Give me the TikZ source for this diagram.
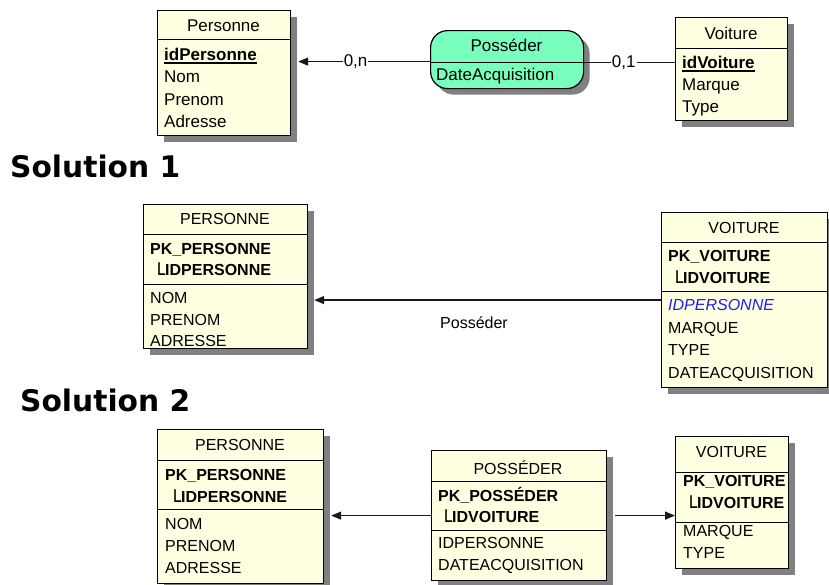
\documentclass[tikz,border=0pt]{standalone}
\usepackage{fontspec}
\setmainfont{Liberation Sans}
\newfontfamily\headfont{DejaVu Sans}
\newfontfamily\glyphfont{DejaVu Sans}
\usetikzlibrary{shadows,arrows.meta}

\definecolor{tblfill}{RGB}{255,255,225}
\definecolor{assocfill}{RGB}{120,255,190}
\definecolor{shade}{RGB}{128,128,128}
\definecolor{fkblue}{RGB}{30,30,255}

% tree corner drawn before an indexed column
\newcommand{\treemark}{\makebox[6pt][l]{\glyphfont\fontsize{20}{20}\selectfont\raisebox{-6.5pt}{\kern-6pt └}}}

\begin{document}
\begin{tikzpicture}[x=1pt,y=-1pt,
  tbl/.style={draw=black, line width=1.2pt, fill=tblfill, rectangle, inner sep=0pt,
    anchor=north west,
    drop shadow={shadow xshift=6pt, shadow yshift=-6pt, fill=shade, opacity=1}},
  assoc/.style={tbl, fill=assocfill, rounded corners=17pt},
  sep/.style={line width=1pt},
  big/.style={font=\fontsize{17}{20}\selectfont},
  small/.style={font=\fontsize{16}{19}\selectfont},
  ttl/.style={anchor=base, inner sep=0pt},
  row/.style={anchor=base west, inner sep=0pt},
  keyrow/.style={row, font=\fontsize{17}{20}\selectfont\bfseries},
  pkrow/.style={row, font=\fontsize{16}{19}\selectfont\bfseries},
  fkrow/.style={row, text=fkblue, font=\fontsize{16}{19}\selectfont\itshape},
  conn/.style={line width=1.3pt, draw=black!90},
  tip/.style={-{Triangle[length=10pt,width=8pt]}},
  card/.style={fill=white, inner sep=1pt, font=\fontsize{17}{20}\selectfont},
  section/.style={anchor=base west, inner sep=0pt, font=\headfont\bfseries\fontsize{29.7}{34}\selectfont}
]
\useasboundingbox (0,0) rectangle (829,584);

% ---------------- conceptual model ----------------
\node[tbl, minimum width=133pt, minimum height=125pt] (p0) at (157,10) {};
\draw[sep] (p0.west |- 0,39) -- (p0.east |- 0,39);
\node[ttl, big] (p0t) at (223.5,31.5) {Personne};
\node[keyrow] (p0k) at (164,60) {idPersonne};
\draw[line width=1.3pt] ([yshift=-3pt]p0k.base west) -- ([yshift=-3pt]p0k.base east);
\node[row, big] (p0a) at (164,82) {Nom};
\node[row, big] (p0b) at (164,105) {Prenom};
\node[row, big] (p0c) at (164,127) {Adresse};

\node[assoc, minimum width=153pt, minimum height=58pt] (a0) at (430,30) {};
\draw[sep] (a0.west |- 0,62) -- (a0.east |- 0,62);
\node[ttl, big] (a0t) at (506.5,51.5) {Posséder};
\node[row, big] (a0a) at (436,80) {DateAcquisition};

\node[tbl, minimum width=112pt, minimum height=103pt] (v0) at (675,17) {};
\draw[sep] (v0.west |- 0,48) -- (v0.east |- 0,48);
\node[ttl, big] (v0t) at (731,39) {Voiture};
\node[keyrow] (v0k) at (682,68) {idVoiture};
\draw[line width=1.3pt] ([yshift=-3pt]v0k.base west) -- ([yshift=-3pt]v0k.base east);
\node[row, big] (v0a) at (682,90) {Marque};
\node[row, big] (v0b) at (682,112) {Type};

\coordinate (a0l) at ([yshift=-2pt]a0.west);
\coordinate (a0r) at ([yshift=-3pt]a0.east);
\draw[conn, tip, shorten >=7pt] (a0l) -- node[card, pos=0.536] (c0n) {0,n} (a0l -| p0.east);
\draw[conn] (a0r) -- node[card, pos=0.435] (c01) {0,1} (a0r -| v0.west);

% ---------------- solution 1 ----------------
\node[section] (s1) at (10,177) {Solution 1};

\node[tbl, minimum width=164pt, minimum height=144pt] (p1) at (143,204) {};
\draw[sep] (p1.west |- 0,234) -- (p1.east |- 0,234);
\draw[sep] (p1.west |- 0,284) -- (p1.east |- 0,284);
\node[ttl, small] (p1t) at (225,224) {PERSONNE};
\node[pkrow] (p1k) at (150,254) {PK\_PERSONNE};
\node[pkrow] (p1i) at (159,275) {\treemark IDPERSONNE};
\node[row, small] (p1a) at (150,303) {NOM};
\node[row, small] (p1b) at (150,325) {PRENOM};
\node[row, small] (p1c) at (150,346.5) {ADRESSE};

\node[tbl, minimum width=166pt, minimum height=175pt] (v1) at (661,212) {};
\draw[sep] (v1.west |- 0,242) -- (v1.east |- 0,242);
\draw[sep] (v1.west |- 0,291) -- (v1.east |- 0,291);
\node[ttl, small] (v1t) at (744,233) {VOITURE};
\node[pkrow] (v1k) at (668,261.5) {PK\_VOITURE};
\node[pkrow] (v1i) at (677,283) {\treemark IDVOITURE};
\node[fkrow] (v1f) at (668,310.5) {IDPERSONNE};
\node[row, small] (v1a) at (668,333) {MARQUE};
\node[row, small] (v1b) at (668,355) {TYPE};
\node[row, small] (v1c) at (668,378) {DATEACQUISITION};

\draw[conn, tip, shorten >=6pt] (v1.west) --
  node[pos=0.53, anchor=base, inner sep=0pt, yshift=-28pt, font=\fontsize{16}{19}\selectfont] (l1) {Posséder}
  (v1.west -| p1.east);

% ---------------- solution 2 ----------------
\node[section] (s2) at (20,411) {Solution 2};

\node[tbl, minimum width=166pt, minimum height=154pt] (p2) at (157,429) {};
\draw[sep] (p2.west |- 0,460) -- (p2.east |- 0,460);
\draw[sep] (p2.west |- 0,509) -- (p2.east |- 0,509);
\node[ttl, small] (p2t) at (240,450) {PERSONNE};
\node[pkrow] (p2k) at (165,480.5) {PK\_PERSONNE};
\node[pkrow] (p2i) at (175,502) {\treemark IDPERSONNE};
\node[row, small] (p2a) at (165,529) {NOM};
\node[row, small] (p2b) at (165,551.5) {PRENOM};
\node[row, small] (p2c) at (165,573.5) {ADRESSE};

\node[tbl, minimum width=175pt, minimum height=130pt] (a2) at (431,450) {};
\draw[sep] (a2.west |- 0,481) -- (a2.east |- 0,481);
\draw[sep] (a2.west |- 0,530) -- (a2.east |- 0,530);
\node[ttl, small] (a2t) at (518,474) {POSSÉDER};
\node[pkrow] (a2k) at (438,501.5) {PK\_POSSÉDER};
\node[pkrow] (a2i) at (446,522) {\treemark IDVOITURE};
\node[row, small] (a2a) at (438,548.5) {IDPERSONNE};
\node[row, small] (a2b) at (438,570.5) {DATEACQUISITION};

\node[tbl, minimum width=113pt, minimum height=132pt] (v2) at (675,436) {};
\draw[sep] (v2.west |- 0,472) -- (v2.east |- 0,472);
\draw[sep] (v2.west |- 0,522) -- (v2.east |- 0,522);
\node[ttl, small] (v2t) at (731.5,457) {VOITURE};
\node[pkrow] (v2k) at (683,486.5) {PK\_VOITURE};
\node[pkrow] (v2i) at (691,508) {\treemark IDVOITURE};
\node[row, small] (v2a) at (683,536.5) {MARQUE};
\node[row, small] (v2b) at (683,558.5) {TYPE};

\draw[conn, tip, shorten >=7pt] (a2.west) -- (a2.west -| p2.east);
\draw[conn, tip, shorten <=8pt] (a2.east) -- (a2.east -| v2.west);

\end{tikzpicture}
\end{document}
